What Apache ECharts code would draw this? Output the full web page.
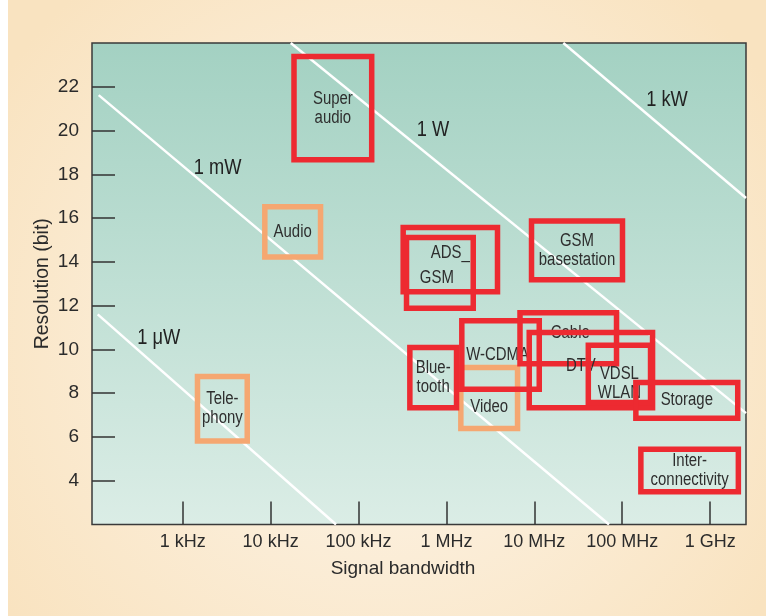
<!DOCTYPE html>
<html>
<head>
<meta charset="utf-8">
<script src="https://cdn.jsdelivr.net/npm/echarts@6/dist/echarts.min.js"></script>
<style>
  html, body { margin: 0; padding: 0; background: #ffffff; }
  #chart { width: 766px; height: 616px; }
</style>
</head>
<body>
<div id="chart"></div>
<script>
// ---------- DATA ----------
// x axis: signal bandwidth as log10(Hz); y axis: resolution in bits
const freqTickExp = [3, 4, 5, 6, 7, 8, 9];
const freqTickLabels = ['1 kHz', '10 kHz', '100 kHz', '1 MHz', '10 MHz', '100 MHz', '1 GHz'];
const resTicks = [4, 6, 8, 10, 12, 14, 16, 18, 20, 22];

// application boxes
const boxLabels   = ['Tele-\nphony', 'Audio', 'Video', 'Super\naudio', 'ADS_', 'GSM', 'GSM\nbasestation',
                     'Blue-\ntooth', 'W-CDMA', 'Cable', 'DTV', 'VDSL\nWLAN', 'Storage', 'Inter-\nconnectivity'];
const boxLogBwLo  = [3.168, 3.934, 6.164, 4.266, 5.508, 5.546, 6.968, 5.584, 6.175, 6.837, 6.942, 7.614, 8.155, 8.212];
const boxLogBwHi  = [3.734, 4.568, 6.809, 5.150, 6.581, 6.305, 8.003, 6.115, 7.056, 7.935, 8.345, 8.322, 9.314, 9.321];
const boxResLo    = [5.81, 14.22, 6.39, 18.67, 12.63, 11.88, 13.18, 7.34, 8.18, 9.35, 7.34, 7.57, 6.86, 3.50];
const boxResHi    = [8.76, 16.52, 9.17, 23.38, 15.57, 15.11, 15.87, 10.09, 11.31, 11.68, 10.77, 10.19, 8.49, 5.44];
const boxGroup    = ['existing', 'existing', 'existing', 'new', 'new', 'new', 'new',
                     'new', 'new', 'new', 'new', 'new', 'new', 'new'];

// constant-power lines (start / end points)
const powerNames  = ['1 \u03bcW', '1 mW', '1 W', '1 kW'];
const powerLogBw0 = [2.033, 2.044, 4.229, 7.330];
const powerRes0   = [11.60, 21.62, 24.00, 24.00];
const powerLogBw1 = [4.744, 7.850, 9.408, 9.408];
const powerRes1   = [2.00, 2.00, 7.09, 16.92];
const powerLabelLogBw = [2.728, 3.396, 5.848, 8.510];
const powerLabelRes   = [10.54, 18.31, 20.04, 21.39];

// ---------- STYLE ----------
const REG = "'Liberation Sans', Arial, sans-serif";
const CONDENSE = 0.83;
const groupColor = { existing: '#f5a771', new: '#ed2a31' };
const labelNudge = { 'ADS_': [0, -7], 'GSM': [-3, 5], 'Video': [0, 9], 'Cable': [2, -5],
                     'DTV': [-10, -4], 'VDSL\nWLAN': [0, 10], 'W-CDMA': [-3, 0] };

const chart = echarts.init(document.getElementById('chart'), null, { renderer: 'canvas' });

function condensedText(str, x, y, size, lineHeight, color) {
  return {
    type: 'text',
    x: x, y: y,
    scaleX: CONDENSE, scaleY: 1,
    style: {
      text: str, x: 0, y: 0,
      align: 'center', verticalAlign: 'middle',
      textAlign: 'center', textVerticalAlign: 'middle',
      font: size + 'px ' + REG,
      lineHeight: lineHeight,
      fill: color
    }
  };
}

function boxSeries(group) {
  const idx = [];
  boxLabels.forEach((l, i) => { if (boxGroup[i] === group) idx.push(i); });
  return {
    type: 'custom',
    z: 5,
    silent: true,
    data: idx.map(i => [boxLogBwLo[i], boxLogBwHi[i], boxResLo[i], boxResHi[i], i]),
    renderItem: function (params, api) {
      const i = idx[params.dataIndex];
      const tl = api.coord([api.value(0), api.value(3)]);
      const br = api.coord([api.value(1), api.value(2)]);
      const nudge = labelNudge[boxLabels[i]] || [0, 0];
      return {
        type: 'group',
        children: [
          {
            type: 'rect',
            shape: { x: tl[0], y: tl[1], width: br[0] - tl[0], height: br[1] - tl[1] },
            style: { fill: null, stroke: groupColor[group], lineWidth: 5.5 }
          },
          condensedText(boxLabels[i], (tl[0] + br[0]) / 2 + nudge[0], (tl[1] + br[1]) / 2 + nudge[1],
                        18, 19, '#2e2e2e')
        ]
      };
    }
  };
}

const series = [];
powerNames.forEach((n, i) => {
  series.push({
    type: 'line',
    name: n,
    silent: true,
    symbol: 'none',
    z: 2,
    clip: true,
    lineStyle: { color: '#ffffff', width: 2.5 },
    data: [[powerLogBw0[i], powerRes0[i]], [powerLogBw1[i], powerRes1[i]]]
  });
});
series.push({
  type: 'custom',
  silent: true,
  z: 3,
  data: powerNames.map((n, i) => [powerLabelLogBw[i], powerLabelRes[i], i]),
  renderItem: function (params, api) {
    const p = api.coord([api.value(0), api.value(1)]);
    return condensedText(powerNames[params.dataIndex], p[0], p[1], 22, 24, '#222222');
  }
});
series.push(boxSeries('existing'));
series.push(boxSeries('new'));

const option = {
  animation: false,
  backgroundColor: new echarts.graphic.RadialGradient(0.5, 0.55, 0.75, [
    { offset: 0, color: '#fdf6ec' },
    { offset: 1, color: '#f9e3c0' }
  ]),
  graphic: [
    { type: 'rect', left: 0, top: 0, shape: { width: 8, height: 616 }, style: { fill: '#ffffff' }, silent: true }
  ],
  grid: {
    left: 92, right: 20, top: 43, bottom: 91.5,
    show: true,
    backgroundColor: new echarts.graphic.LinearGradient(0, 0, 0, 1, [
      { offset: 0, color: '#a3d1c2' },
      { offset: 1, color: '#dbede6' }
    ]),
    borderColor: '#3a3a3a',
    borderWidth: 1.5
  },
  xAxis: {
    type: 'value',
    min: 1.968, max: 9.408,
    name: 'Signal bandwidth',
    nameLocation: 'middle',
    nameGap: 35,
    nameMoveOverlap: false,
    nameTextStyle: { fontFamily: REG, fontSize: 19, color: '#2b2b2b', padding: [0, 32, 0, 0] },
    axisLine: { show: false },
    splitLine: { show: false },
    axisTick: { show: true, inside: true, length: 23, customValues: freqTickExp,
                lineStyle: { color: '#333333', width: 1.5 } },
    axisLabel: {
      customValues: freqTickExp,
      margin: 9,
      fontFamily: REG, fontSize: 18, color: '#2b2b2b',
      formatter: v => freqTickLabels[freqTickExp.indexOf(Math.round(v))] || ''
    }
  },
  yAxis: {
    type: 'value',
    min: 2, max: 24,
    name: 'Resolution (bit)',
    nameLocation: 'middle',
    nameGap: 39,
    nameMoveOverlap: false,
    nameTextStyle: { fontFamily: REG, fontSize: 19.5, color: '#2b2b2b' },
    axisLine: { show: false },
    splitLine: { show: false },
    axisTick: { show: true, inside: true, length: 23, customValues: resTicks,
                lineStyle: { color: '#333333', width: 1.5 } },
    axisLabel: {
      customValues: resTicks,
      margin: 13,
      fontFamily: REG, fontSize: 19, color: '#2b2b2b'
    }
  },
  series: series
};

chart.setOption(option);
</script>
</body>
</html>
